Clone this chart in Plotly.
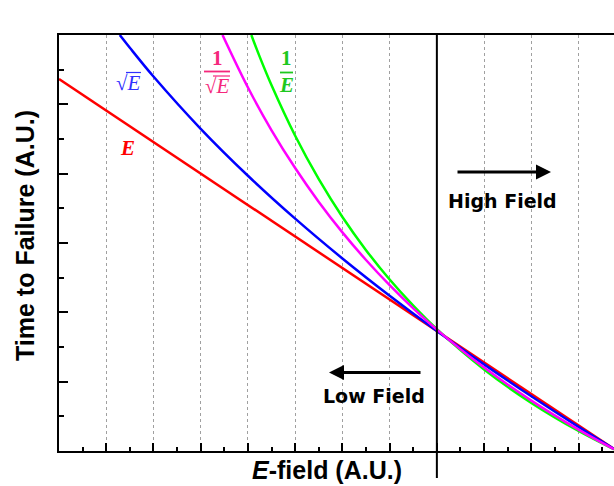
import plotly.graph_objects as go

# ---- data (x and y in major-tick units) ----
x_E = [0.0, 4.0, 8.0, 11.75]
y_E = [5.364, 3.548, 1.731, 0.028]

x_sqrtE = [1.287, 1.5, 2, 3, 4, 5, 6, 7, 8, 9, 10, 11, 11.75]
y_sqrtE = [6.00, 5.816, 5.401, 4.647, 3.970, 3.351, 2.777, 2.239, 1.731, 1.249, 0.789, 0.348, 0.029]

x_inv_sqrtE = [3.462, 4, 4.5, 5, 5.5, 6, 6.5, 7, 7.5, 8, 9, 10, 11, 11.75]
y_inv_sqrtE = [6.00, 5.242, 4.626, 4.081, 3.592, 3.153, 2.755, 2.392, 2.058, 1.751, 1.203, 0.727, 0.308, 0.025]

x_invE = [4.072, 4.25, 4.5, 5, 5.5, 6, 6.5, 7, 7.5, 8, 9, 10, 11, 11.75]
y_invE = [6.00, 5.684, 5.274, 4.546, 3.920, 3.375, 2.897, 2.473, 2.097, 1.758, 1.176, 0.694, 0.288, 0.024]

boundary_x = 8.0
x_range = [0, 11.75]
y_range = [0, 6]

W, H = 614, 486
ML, MR, MT, MB = 59, 0, 35, 35
PW = W - ML - MR
PH = H - MT - MB


def dx(px):
    return (px - ML) / PW * (x_range[1] - x_range[0]) + x_range[0]


def dy(py):
    return (H - MB - py) / PH * (y_range[1] - y_range[0]) + y_range[0]


def px_paper(px):
    return (px - ML) / PW


def py_paper(py):
    return (H - MB - py) / PH


fig = go.Figure()
line_w = 2.5
fig.add_trace(go.Scatter(x=x_E, y=y_E, mode="lines", line=dict(color="#ff0000", width=line_w), name="E"))
fig.add_trace(go.Scatter(x=x_invE, y=y_invE, mode="lines", line=dict(color="#00ff00", width=line_w, shape="spline", smoothing=1.0), name="1/E"))
fig.add_trace(go.Scatter(x=x_sqrtE, y=y_sqrtE, mode="lines", line=dict(color="#0000ff", width=line_w, shape="spline", smoothing=1.0), name="sqrtE"))
fig.add_trace(go.Scatter(x=x_inv_sqrtE, y=y_inv_sqrtE, mode="lines", line=dict(color="#ff00ff", width=line_w, shape="spline", smoothing=1.0), name="1/sqrtE"))

serif = "Liberation Serif"
annotations = []
shapes = []

# curve labels
RED_L, BLUE_L, PINK_L, GREEN_L = "#ff0000", "#3030ff", "#f5287c", "#1ec81e"
annotations.append(dict(x=dx(127.5), y=dy(148), xref="x", yref="y", text="<b><i>E</i></b>", showarrow=False,
                        font=dict(family=serif, size=21, color=RED_L), xanchor="center", yanchor="middle"))
annotations.append(dict(x=dx(128), y=dy(83), xref="x", yref="y", text="√<i>E</i>", showarrow=False,
                        font=dict(family=serif, size=21, color=BLUE_L), xanchor="center", yanchor="middle"))
shapes.append(dict(type="line", xref="x", yref="y", x0=dx(126), x1=dx(141), y0=dy(72.5), y1=dy(72.5),
                   line=dict(color=BLUE_L, width=1.2)))
# 1/sqrt(E)
annotations.append(dict(x=dx(217), y=dy(58), xref="x", yref="y", text="<b>1</b>", showarrow=False,
                        font=dict(family=serif, size=21, color=PINK_L), xanchor="center", yanchor="middle"))
shapes.append(dict(type="line", xref="x", yref="y", x0=dx(204), x1=dx(230), y0=dy(71.5), y1=dy(71.5),
                   line=dict(color=PINK_L, width=1.8)))
annotations.append(dict(x=dx(217), y=dy(86), xref="x", yref="y", text="√<i>E</i>", showarrow=False,
                        font=dict(family=serif, size=21, color=PINK_L), xanchor="center", yanchor="middle"))
shapes.append(dict(type="line", xref="x", yref="y", x0=dx(213), x1=dx(230), y0=dy(76), y1=dy(76),
                   line=dict(color=PINK_L, width=1.2)))
# 1/E
annotations.append(dict(x=dx(286.5), y=dy(58), xref="x", yref="y", text="<b>1</b>", showarrow=False,
                        font=dict(family=serif, size=21, color=GREEN_L), xanchor="center", yanchor="middle"))
shapes.append(dict(type="line", xref="x", yref="y", x0=dx(280), x1=dx(293), y0=dy(72.5), y1=dy(72.5),
                   line=dict(color=GREEN_L, width=1.8)))
annotations.append(dict(x=dx(286.5), y=dy(85), xref="x", yref="y", text="<b><i>E</i></b>", showarrow=False,
                        font=dict(family=serif, size=21, color=GREEN_L), xanchor="center", yanchor="middle"))

# field arrows and texts
sans = "DejaVu Sans"
annotations.append(dict(x=dx(551), y=dy(172), ax=dx(456), ay=dy(172), xref="x", yref="y", axref="x", ayref="y",
                        text="", showarrow=True, arrowhead=2, arrowsize=1, arrowwidth=3, arrowcolor="black", standoff=0))
annotations.append(dict(x=dx(502.5), y=dy(201), xref="x", yref="y", text="<b>High Field</b>", showarrow=False,
                        font=dict(family=sans, size=19, color="black"), xanchor="center", yanchor="middle"))
annotations.append(dict(x=dx(329), y=dy(372.5), ax=dx(422), ay=dy(372.5), xref="x", yref="y", axref="x", ayref="y",
                        text="", showarrow=True, arrowhead=2, arrowsize=1, arrowwidth=3, arrowcolor="black", standoff=0))
annotations.append(dict(x=dx(374), y=dy(396), xref="x", yref="y", text="<b>Low Field</b>", showarrow=False,
                        font=dict(family=sans, size=19, color="black"), xanchor="center", yanchor="middle"))

# axis titles
annotations.append(dict(x=px_paper(326.5), y=py_paper(470), xref="paper", yref="paper",
                        text="<b><i>E</i>-field (A.U.)</b>", showarrow=False,
                        font=dict(family="Liberation Sans", size=25, color="black"), xanchor="center", yanchor="middle"))
annotations.append(dict(x=px_paper(25), y=py_paper(236), xref="paper", yref="paper",
                        text="<b>Time to Failure (A.U.)</b>", showarrow=False, textangle=-90,
                        font=dict(family="Liberation Sans", size=25, color="black"), xanchor="center", yanchor="middle"))

# low/high field boundary
shapes.append(dict(type="line", xref="x", yref="paper", x0=boundary_x, x1=boundary_x, y0=py_paper(478), y1=1,
                   line=dict(color="black", width=2)))

fig.update_layout(
    width=W, height=H,
    margin=dict(l=ML, r=MR, t=MT, b=MB),
    paper_bgcolor="white", plot_bgcolor="white",
    showlegend=False,
    annotations=annotations,
    shapes=shapes,
    xaxis=dict(range=x_range, dtick=1, tick0=0, ticks="inside", ticklen=8, tickwidth=2, tickcolor="black",
               showticklabels=False, showline=True, linewidth=2, linecolor="black", mirror=True,
               showgrid=True, gridcolor="#a0a0a0", griddash="dot", gridwidth=1, zeroline=False,
               minor=dict(dtick=0.5, tick0=0, ticks="inside", ticklen=4, tickwidth=2, tickcolor="black", showgrid=False)),
    yaxis=dict(range=y_range, dtick=1, tick0=0, ticks="inside", ticklen=9, tickwidth=2, tickcolor="black",
               showticklabels=False, showline=True, linewidth=2, linecolor="black", mirror=False,
               showgrid=False, zeroline=False,
               minor=dict(dtick=0.5, tick0=0, ticks="inside", ticklen=5, tickwidth=2, tickcolor="black", showgrid=False)),
)

fig.write_html(
    "out.html",
    config={"displayModeBar": False},
    post_script="document.body.style.margin='0';document.body.style.padding='0';document.body.style.overflow='hidden';",
)
